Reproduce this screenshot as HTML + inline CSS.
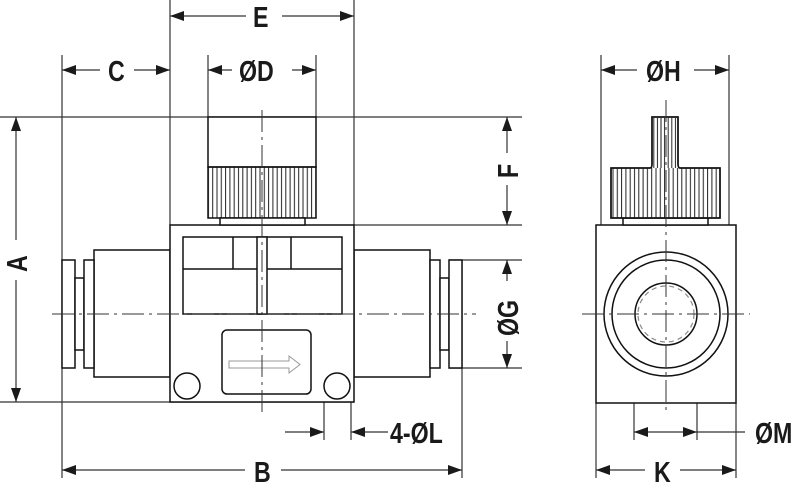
<!DOCTYPE html>
<html><head><meta charset="utf-8"><style>
html,body{margin:0;padding:0;background:#fff;}
svg{display:block}
text{font-family:"Liberation Sans",sans-serif;font-size:29px;font-weight:bold;fill:#1a1a1a}
</style></head><body>
<svg width="800" height="490" viewBox="0 0 800 490" xmlns="http://www.w3.org/2000/svg">
<defs>
<marker id="ar" viewBox="0 0 14 10" refX="14" refY="5" markerWidth="14" markerHeight="10" markerUnits="userSpaceOnUse" orient="auto-start-reverse">
<path d="M0,0 L14,5 L0,10 Z" fill="#1a1a1a"/>
</marker>
<pattern id="kn" x="0" y="0" width="4.3" height="10" patternUnits="userSpaceOnUse">
<line x1="2" y1="0" x2="2" y2="10" stroke="#222" stroke-width="1"/>
</pattern>
<pattern id="kn2" x="611" y="0" width="4.3" height="10" patternUnits="userSpaceOnUse">
<line x1="2" y1="0" x2="2" y2="10" stroke="#222" stroke-width="1"/>
</pattern>
<pattern id="kn3" x="652" y="0" width="3.6" height="10" patternUnits="userSpaceOnUse">
<line x1="1.8" y1="0" x2="1.8" y2="10" stroke="#222" stroke-width="1"/>
</pattern>
</defs>
<g stroke="#333" stroke-width="1.2" fill="none">
<line x1="0" y1="117" x2="522" y2="117"/>
<line x1="0" y1="402" x2="354" y2="402"/>
<line x1="354" y1="225" x2="522" y2="225"/>
<line x1="449" y1="260" x2="522" y2="260"/>
<line x1="449" y1="368" x2="522" y2="368"/>
<line x1="62" y1="55" x2="62" y2="478"/>
<line x1="170" y1="0" x2="170" y2="225"/>
<line x1="354" y1="0" x2="354" y2="225"/>
<line x1="208" y1="55" x2="208" y2="117"/>
<line x1="316" y1="55" x2="316" y2="117"/>
<line x1="462" y1="260" x2="462" y2="478"/>
<line x1="324" y1="386" x2="324" y2="440"/>
<line x1="351" y1="386" x2="351" y2="440"/>
<line x1="601" y1="55" x2="601" y2="314"/>
<line x1="729" y1="55" x2="729" y2="314"/>
<line x1="596" y1="403" x2="596" y2="478"/>
<line x1="736" y1="403" x2="736" y2="478"/>
<line x1="634" y1="314" x2="634" y2="440"/>
<line x1="697" y1="314" x2="697" y2="440"/>
<line x1="170" y1="16" x2="246" y2="16" marker-start="url(#ar)"/>
<line x1="282" y1="16" x2="354" y2="16" marker-end="url(#ar)"/>
<line x1="62" y1="70" x2="100" y2="70" marker-start="url(#ar)"/>
<line x1="134" y1="70" x2="170" y2="70" marker-end="url(#ar)"/>
<line x1="208" y1="70" x2="232" y2="70" marker-start="url(#ar)"/>
<line x1="292" y1="70" x2="316" y2="70" marker-end="url(#ar)"/>
<line x1="601" y1="70" x2="637" y2="70" marker-start="url(#ar)"/>
<line x1="694" y1="70" x2="729" y2="70" marker-end="url(#ar)"/>
<line x1="16" y1="117" x2="16" y2="240" marker-start="url(#ar)"/>
<line x1="16" y1="280" x2="16" y2="402" marker-end="url(#ar)"/>
<line x1="507" y1="117" x2="507" y2="153" marker-start="url(#ar)"/>
<line x1="507" y1="185" x2="507" y2="225" marker-end="url(#ar)"/>
<line x1="507" y1="260" x2="507" y2="281" marker-start="url(#ar)"/>
<line x1="507" y1="341" x2="507" y2="368" marker-end="url(#ar)"/>
<line x1="62" y1="470" x2="245" y2="470" marker-start="url(#ar)"/>
<line x1="281" y1="470" x2="462" y2="470" marker-end="url(#ar)"/>
<line x1="285" y1="432" x2="324" y2="432" marker-end="url(#ar)"/>
<line x1="351" y1="432" x2="388" y2="432" marker-start="url(#ar)"/>
<line x1="596" y1="470" x2="645" y2="470" marker-start="url(#ar)"/>
<line x1="680" y1="470" x2="736" y2="470" marker-end="url(#ar)"/>
<line x1="634" y1="432" x2="697" y2="432" marker-start="url(#ar)" marker-end="url(#ar)"/>
<line x1="697" y1="432" x2="745" y2="432"/>
</g>
<g stroke="#111" stroke-width="1.5" fill="#fff">
<rect x="94" y="250" width="76" height="127"/>
<rect x="354" y="250" width="76" height="127"/>
<rect x="62" y="260" width="13" height="108"/>
<rect x="75" y="278" width="9" height="72"/>
<rect x="84" y="260" width="10" height="108"/>
<rect x="430" y="260" width="10" height="108"/>
<rect x="440" y="278" width="9" height="72"/>
<rect x="449" y="260" width="13" height="108"/>
<rect x="170" y="225" width="184" height="177"/>
<rect x="183" y="237" width="159" height="77"/>
<line x1="183" y1="269" x2="342" y2="269"/>
<line x1="233" y1="237" x2="233" y2="269"/>
<line x1="291" y1="237" x2="291" y2="269"/>
<rect x="257" y="237" width="10" height="77"/>
<rect x="208" y="117" width="108" height="50"/>
<rect x="208" y="167" width="108" height="51" fill="url(#kn)"/>
<rect x="220" y="218" width="85" height="7"/>
<rect x="222" y="330" width="89" height="64" rx="5"/>
<circle cx="187" cy="386" r="13"/>
<circle cx="337" cy="386" r="13"/>
</g>
<path d="M229,361 H289 V356 L300,364.5 L289,373 V368 H229 Z" fill="none" stroke="#999" stroke-width="1"/>
<g stroke="#111" stroke-width="1.5" fill="#fff">
<rect x="596" y="225" width="140" height="178"/>
<rect x="623" y="218" width="85" height="7"/>
<path d="M611,218 V168 H650 Q652,168 652,164 V117 H678 V164 Q678,168 680,168 H720 V218 Z" fill="#fff"/>
<rect x="611" y="168" width="109" height="50" fill="url(#kn2)" stroke="none"/>
<rect x="653" y="118" width="24" height="50" fill="url(#kn3)" stroke="none"/>
<path d="M611,218 V168 H650 Q652,168 652,164 V117 H678 V164 Q678,168 680,168 H720 V218 Z" fill="none"/>
<circle cx="666" cy="314" r="62"/>
<circle cx="666" cy="314" r="54"/>
<circle cx="666" cy="314" r="31"/>
<circle cx="666" cy="314" r="28" fill="none" stroke="#888" stroke-width="1.2" stroke-dasharray="5,4"/>
</g>
<g stroke="#333" stroke-width="1" stroke-dasharray="22,5,3,5" fill="none">
<line x1="52" y1="314" x2="476" y2="314"/>
<line x1="262" y1="110" x2="262" y2="412"/>
<line x1="582" y1="314" x2="750" y2="314"/>
<line x1="666" y1="100" x2="666" y2="412"/>
</g>
<g>
<text transform="translate(253,27) scale(0.8,1)">E</text>
<text transform="translate(108,81) scale(0.8,1)">C</text>
<text transform="translate(239,81) scale(0.8,1)">ØD</text>
<text transform="translate(646,81) scale(0.8,1)">ØH</text>
<text transform="translate(27,272) rotate(-90) scale(0.8,1)">A</text>
<text transform="translate(518,178) rotate(-90) scale(0.8,1)">F</text>
<text transform="translate(518,336) rotate(-90) scale(0.8,1)">ØG</text>
<text transform="translate(254,482) scale(0.8,1)">B</text>
<text transform="translate(390,443) scale(0.8,1)">4-ØL</text>
<text transform="translate(654,482) scale(0.8,1)">K</text>
<text transform="translate(755,443) scale(0.8,1)">ØM</text>
</g>
</svg>
</body></html>
